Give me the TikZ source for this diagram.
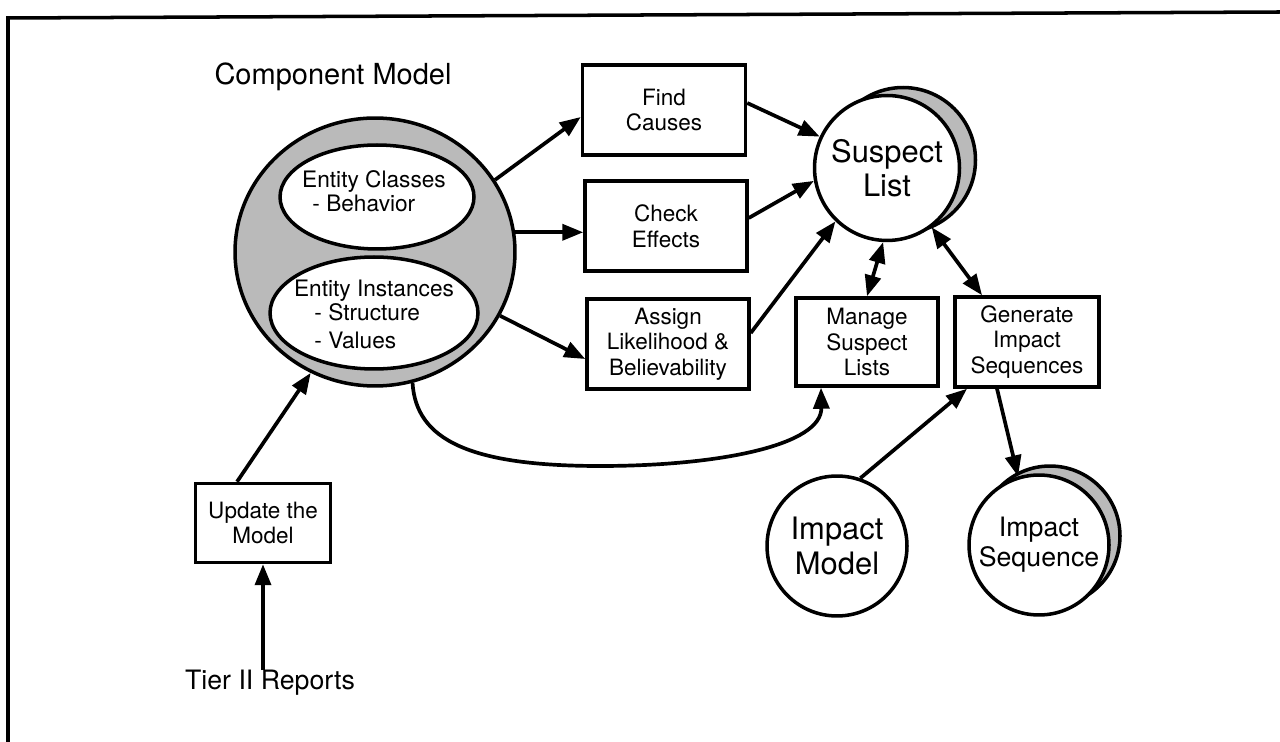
\documentclass[tikz,border=0pt]{standalone}
\usepackage{fontspec}
\setmainfont{TeX Gyre Heros}
\usetikzlibrary{arrows.meta,shapes.geometric}

\newcommand{\boxfont}{\fontsize{12.8}{14.6}\selectfont}
\newcommand{\circfont}{\fontsize{17.6}{19.4}\selectfont}

\tikzset{
    proc/.style={draw, line width=2pt, fill=white, align=center, font=\boxfont,
        minimum width=3.24cm, minimum height=1.8cm, inner sep=1pt},
    store/.style={draw, circle, line width=2pt, fill=white, align=center,
        font=\circfont, minimum size=2.8cm, inner sep=0pt},
    shadow/.style={draw, circle, line width=2pt, fill=black!27, minimum size=2.8cm},
    flow/.style={line width=2.1pt, -{Triangle[length=0.42cm,width=0.32cm]}},
    flows/.style={line width=2.1pt, {Triangle[length=0.42cm,width=0.32cm]}-{Triangle[length=0.42cm,width=0.32cm]}}
}

\begin{document}
\begin{tikzpicture}[x=0.02cm,y=-0.02cm]

        \useasboundingbox (0,0) rectangle (1280,742);

        %cadre
        \draw[line width=2pt] (8,742) -- (8,18) -- (1280,12);

        %component model
        \node[font=\fontsize{16.5}{18}\selectfont] (title) at (333,77) {Component Model};
        \node[draw, ellipse, line width=2pt, fill=black!27, minimum width=5.6cm,
            minimum height=5.36cm, inner sep=0pt] (comp) at (375,252) {};
        \node[draw, ellipse, line width=2pt, fill=white, minimum width=3.88cm,
            minimum height=2.08cm, inner sep=0pt] (cls) at (377,197) {};
        \node[align=left, font=\fontsize{12.9}{13.6}\selectfont] (clstxt) at (374,191)
            {Entity Classes\\\hspace{0.45em}- Behavior};
        \node[draw, ellipse, line width=2pt, fill=white, minimum width=4.16cm,
            minimum height=2.24cm, inner sep=0pt] (inst) at (374,313) {};
        \node[align=left, font=\fontsize{12.9}{13.8}\selectfont] (insttxt) at (374,314)
            {Entity Instances\\\hspace{0.9em}- Structure\\[2pt]\hspace{0.9em}- Values};

        %processus
        \node[proc, minimum width=3.26cm] (find) at (664,110) {Find\\Causes};
        \node[proc] (check) at (666,226) {Check\\Effects};
        \node[proc] (assign) at (668,344) {Assign\\Likelihood \&\\Believability};
        \node[proc, minimum width=2.84cm, minimum height=1.76cm] (manage) at (867,342)
            {Manage\\Suspect\\Lists};
        \node[proc, minimum width=2.88cm] (gen) at (1027,342) {Generate\\Impact\\Sequences};
        \node[proc, minimum width=2.7cm, minimum height=1.58cm] (upd) at (263,523)
            {Update the\\Model};
        \node[inner sep=0pt, font=\fontsize{15.2}{17}\selectfont] (tier) at (270,683)
            {Tier II Reports};

        %cercles
        \node[shadow, minimum size=2.9cm] (suspsh) at (903,160) {};
        \node[store, minimum size=2.9cm] (susp) at (887,168)
            {\raisebox{-0.2cm}{\shortstack{Suspect\\List}}};
        \node[store] (imodel) at (837,546) {Impact\\Model};
        \node[shadow] (iseqsh) at (1050,536) {};
        \node[store, font=\fontsize{15.2}{17}\selectfont] (iseq) at (1039,545)
            {Impact\\Sequence};

        %fleches
        \draw[flow] (comp.31) -- ([yshift=-0.14cm]find.west);
        \draw[flow] (comp.8) -- (comp.8 -| check.west);
        \draw[flow] (comp.-27) -- ([yshift=-0.3cm]assign.west);
        \draw[flow] ([yshift=0.14cm]find.east) -- (susp.155);
        \draw[flow] ([yshift=0.16cm]check.east) -- (susp.-170);
        \draw[flow] ([yshift=0.22cm]assign.east) -- (susp.-134);
        \draw[flows] (susp.-93) -- (manage.north);
        \draw[flows] (susp.-53) -- ([xshift=-0.9cm]gen.north);
        \draw[flow] (imodel.71) -- ([xshift=-1.2cm]gen.south);
        \draw[flow] ([xshift=-0.6cm]gen.south) -- (iseq.107);
        \draw[flow] ([xshift=-0.52cm]upd.north) -- (comp.-118);
        \draw[flow] (tier.north -| upd.south) -- (upd.south);
        \draw[flow] (comp.-74) .. controls (416,440) and (470,466) .. (600,466)
            .. controls (720,466) and (822,445) .. ([xshift=-0.92cm]manage.south);

\end{tikzpicture}
\end{document}
